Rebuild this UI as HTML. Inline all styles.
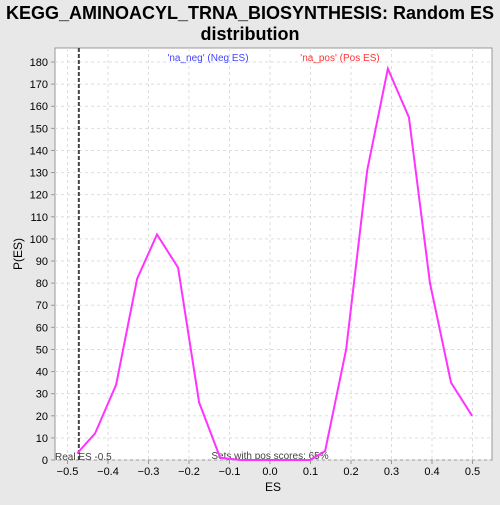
<!DOCTYPE html>
<html><head><meta charset="utf-8"><style>
body{margin:0;background:#e8e8e8;font-family:"Liberation Sans","DejaVu Sans",sans-serif}
</style></head><body>
<svg width="500" height="500" xmlns="http://www.w3.org/2000/svg">
<rect width="500" height="500" fill="#e8e8e8"/>
<text x="250" y="19" text-anchor="middle" font-size="18" font-weight="bold">KEGG_AMINOACYL_TRNA_BIOSYNTHESIS: Random ES</text>
<text x="250" y="40" text-anchor="middle" font-size="18" font-weight="bold">distribution</text>
<rect x="55" y="48" width="437" height="412" fill="#fff" stroke="#999"/>
<g id="grid"></g><g id="axes"></g>
<text x="273" y="491" text-anchor="middle" font-size="12">ES</text>
<text x="22" y="254" text-anchor="middle" font-size="12" transform="rotate(-90 22 254)">P(ES)</text>
<text x="208" y="61" text-anchor="middle" font-size="10" fill="#4444ff">'na_neg' (Neg ES)</text>
<text x="340" y="61" text-anchor="middle" font-size="10" fill="#ff3333">'na_pos' (Pos ES)</text>
<text x="55" y="460" font-size="10" fill="#444">Real ES -0.5</text>
<text x="270" y="459" text-anchor="middle" font-size="10" fill="#444">Sets with pos scores: 65%</text>
<g id="marks"></g>
</svg>
<script>
const esValues=[-0.476,-0.432,-0.38,-0.328,-0.279,-0.227,-0.175,-0.123,-0.072,-0.02,0.03,0.099,0.136,0.188,0.24,0.291,0.343,0.395,0.447,0.499];
const density=[3,12,34,82,102,87,26,1,0,0,0,0,4,50,131,177,155,80,35,20];
const xTicks=[-0.5,-0.4,-0.3,-0.2,-0.1,0,0.1,0.2,0.3,0.4,0.5];
const yTicks=[0,10,20,30,40,50,60,70,80,90,100,110,120,130,140,150,160,170,180];
const realES=-0.472;
const X=v=>270+v*405, Y=v=>460-v*2.211;
const NS="http://www.w3.org/2000/svg";
function mk(t,a,p){const e=document.createElementNS(NS,t);for(const k in a)e.setAttribute(k,a[k]);p.appendChild(e);return e;}
const grid=document.getElementById('grid'),axes=document.getElementById('axes'),marks=document.getElementById('marks');
xTicks.forEach(v=>{const x=X(v);
const g=mk('line',{x1:x,x2:x,y1:48,y2:460,stroke:'#ddd','stroke-dasharray':'3,3'},grid);


mk('line',{x1:x,x2:x,y1:460,y2:464,stroke:'#999'},axes);
const t=mk('text',{x:x,y:475,'text-anchor':'middle','font-size':'11'},axes);t.textContent=(v===0?'0.0':String(v).replace('-','\u2212'));

});
yTicks.forEach(v=>{const y=Y(v);
const g=mk('line',{x1:55,x2:492,y1:y,y2:y,stroke:'#ddd','stroke-dasharray':'3,3'},grid);


mk('line',{x1:51,x2:55,y1:y,y2:y,stroke:'#999'},axes);
const t=mk('text',{x:48,y:y+4,'text-anchor':'end','font-size':'11'},axes);t.textContent=v;

});
const rl=mk('line',{x1:X(realES),x2:X(realES),y1:48,y2:460,stroke:'#444','stroke-width':2,'stroke-dasharray':'4,2'},marks);


const pl=mk('polyline',{points:esValues.map((v,i)=>X(v)+','+Y(density[i])).join(' '),fill:'none',stroke:'#ff33ff','stroke-width':2},marks);


</script>
</body></html>
